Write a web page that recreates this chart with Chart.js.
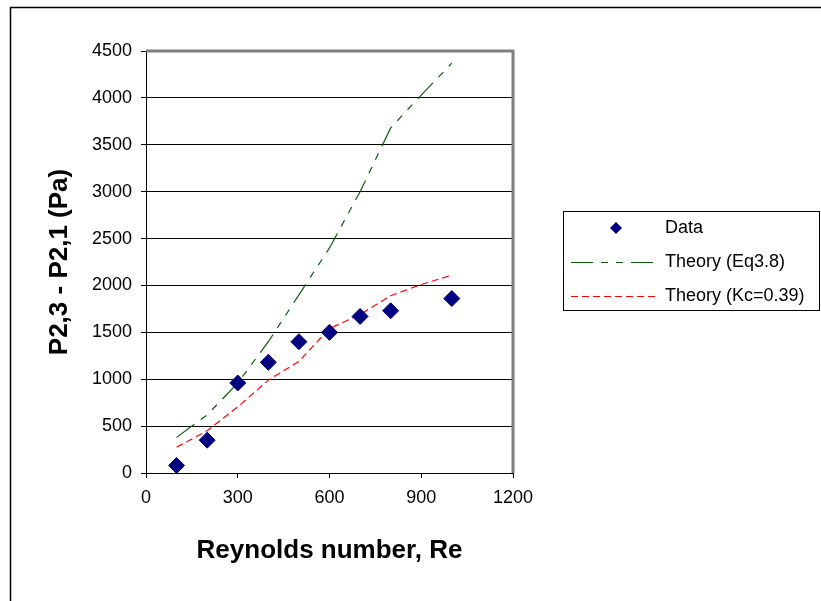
<!DOCTYPE html>
<html>
<head>
<meta charset="utf-8">
<title>Pressure drop vs Reynolds number</title>
<script src="https://cdn.jsdelivr.net/npm/chart.js@4.4.1/dist/chart.umd.min.js"></script>
<style>
  html, body { margin: 0; padding: 0; background: #fff; }
  #wrap { width: 821px; height: 601px; }
</style>
</head>
<body>
<div id="wrap"><canvas id="dp" width="821" height="601"></canvas></div>
<script>
// measured points
var reData = [100, 200, 300, 400, 500, 600, 700, 800, 1000];
var dpData = [80, 350, 960, 1180, 1400, 1500, 1670, 1730, 1860];

// theory curves
var reTheory = [100, 200, 300, 400, 500, 600, 700, 800, 900, 1000];
var dpEq38 = [380, 620, 960, 1400, 1900, 2400, 3000, 3680, 4030, 4370];
var dpKc039 = [275, 450, 705, 990, 1190, 1540, 1690, 1890, 2010, 2110];

var seriesNames = ["Data", "Theory (Eq3.8)", "Theory (Kc=0.39)"];
var xTicks = [0, 300, 600, 900, 1200];
var yMax = 4500, yStep = 500;

var FONT = "'Liberation Sans', Arial, sans-serif";

function pairs(xs, ys) {
    return xs.map(function(x, i) { return { x: x, y: ys[i] }; });
}

// gray frame on top/right of the plot, outer border of the figure
var framePlugin = {
    id: 'frame',
    beforeDatasetsDraw: function(chart) {
        var a = chart.chartArea, ctx = chart.ctx;
        ctx.save();
        ctx.strokeStyle = '#808080';
        ctx.lineWidth = 3;
        ctx.beginPath();
        ctx.moveTo(a.left, a.top);
        ctx.lineTo(a.right, a.top);
        ctx.lineTo(a.right, a.bottom);
        ctx.stroke();
        ctx.restore();
    },
    afterDraw: function(chart) {
        var ctx = chart.ctx;
        ctx.save();
        ctx.strokeStyle = '#000';
        ctx.lineWidth = 1.5;
        ctx.beginPath();
        ctx.moveTo(10.5, chart.height);
        ctx.lineTo(10.5, 7.5);
        ctx.lineTo(chart.width, 7.5);
        ctx.stroke();
        ctx.restore();
    }
};

// boxed legend to the right of the plot
var legendPlugin = {
    id: 'boxLegend',
    afterDraw: function(chart) {
        var ctx = chart.ctx;
        var bx = 563.5, by = 211.5, bw = 256, bh = 99;
        ctx.save();
        ctx.fillStyle = '#fff';
        ctx.fillRect(bx, by, bw, bh);
        ctx.strokeStyle = '#000';
        ctx.lineWidth = 1;
        ctx.strokeRect(bx, by, bw, bh);
        ctx.font = '18px ' + FONT;
        ctx.textBaseline = 'middle';
        ctx.textAlign = 'left';
        chart.data.datasets.forEach(function(ds, i) {
            var cy = 228 + i * 34;
            if (ds.showLine) {
                ctx.strokeStyle = ds.borderColor;
                ctx.lineWidth = ds.borderWidth;
                ctx.setLineDash(ds.borderDash);
                ctx.beginPath();
                ctx.moveTo(571, cy + 0.5);
                ctx.lineTo(657, cy + 0.5);
                ctx.stroke();
                ctx.setLineDash([]);
            } else {
                ctx.fillStyle = ds.backgroundColor;
                ctx.beginPath();
                ctx.moveTo(610, cy); ctx.lineTo(616, cy - 6);
                ctx.lineTo(622, cy); ctx.lineTo(616, cy + 6);
                ctx.closePath();
                ctx.fill();
            }
            ctx.fillStyle = '#000';
            ctx.fillText(ds.label, 665, cy);
        });
        ctx.restore();
    }
};

new Chart(document.getElementById('dp'), {
    type: 'scatter',
    data: {
        datasets: [{
            label: seriesNames[0],
            data: pairs(reData, dpData),
            pointStyle: 'rectRot',
            pointRadius: 8,
            pointBackgroundColor: '#000080',
            pointBorderColor: '#000080',
            backgroundColor: '#000080',
            borderColor: '#000080',
            pointBorderWidth: 1,
            showLine: false,
            order: 0
        }, {
            label: seriesNames[1],
            data: pairs(reTheory, dpEq38),
            showLine: true,
            borderColor: '#0f5a0f',
            borderWidth: 1.2,
            borderDash: [22, 8, 7, 8, 7, 8],
            pointRadius: 0,
            tension: 0,
            order: 1
        }, {
            label: seriesNames[2],
            data: pairs(reTheory, dpKc039),
            showLine: true,
            borderColor: '#ff0000',
            borderWidth: 1.2,
            borderDash: [7, 4],
            pointRadius: 0,
            tension: 0,
            order: 2
        }]
    },
    options: {
        responsive: false,
        animation: false,
        devicePixelRatio: 1,
        layout: { padding: { left: 10, top: 51, right: 308, bottom: 28 } },
        plugins: {
            legend: { display: false },
            tooltip: { enabled: false }
        },
        scales: {
            x: {
                type: 'linear',
                min: 0,
                max: 1200,
                afterBuildTicks: function(s) {
                    s.ticks = xTicks.map(function(v) { return { value: v }; });
                },
                afterFit: function(s) { s.height = 100; },
                grid: { drawOnChartArea: false, drawTicks: true, tickLength: 5, color: '#000' },
                border: { color: '#000', width: 1 },
                ticks: {
                    padding: 9,
                    color: '#000',
                    maxRotation: 0,
                    callback: function(v) { return String(v); },
                    font: { family: FONT, size: 18 }
                },
                title: {
                    display: true,
                    text: 'Reynolds number, Re',
                    color: '#000',
                    padding: { top: 0, bottom: 7 },
                    font: { family: FONT, size: 26, weight: 'bold' }
                }
            },
            y: {
                min: 0,
                max: yMax,
                afterFit: function(s) { s.width = 136; },
                grid: { color: '#000', lineWidth: 1, drawTicks: true, tickLength: 5 },
                border: { color: '#000', width: 1 },
                ticks: {
                    stepSize: yStep,
                    padding: 9,
                    color: '#000',
                    callback: function(v) { return String(v); },
                    font: { family: FONT, size: 18 }
                },
                title: {
                    display: true,
                    text: 'P2,3 - P2,1 (Pa)',
                    color: '#000',
                    padding: { top: 34, bottom: 0 },
                    font: { family: FONT, size: 26, weight: 'bold' }
                }
            }
        }
    },
    plugins: [framePlugin, legendPlugin]
});
</script>
</body>
</html>
